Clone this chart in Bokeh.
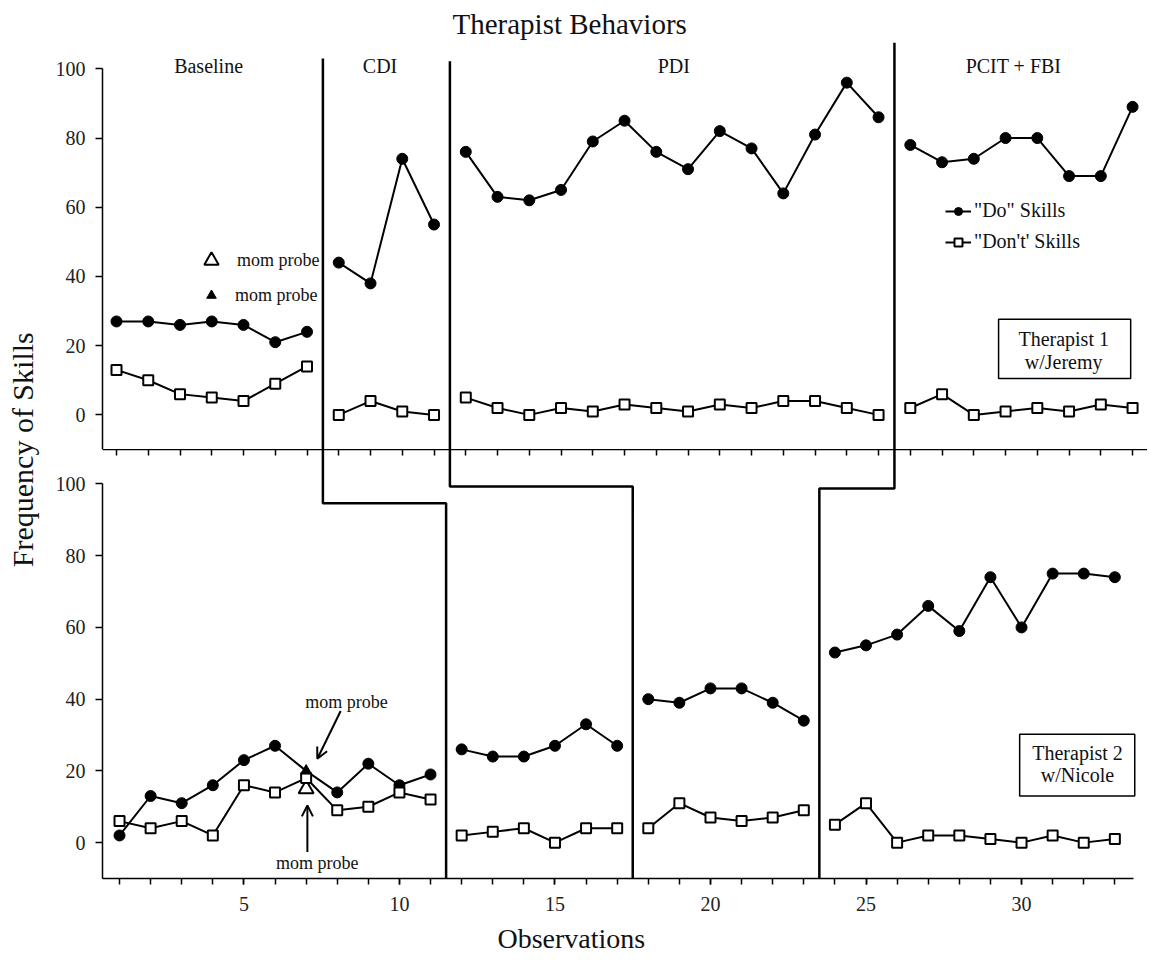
from bokeh.plotting import figure
from bokeh.models import (Range1d, LinearAxis, FixedTicker, Legend, LegendItem, Label,
                          BoxAnnotation, Arrow, OpenHead, Title)
from bokeh.layouts import row, column
from bokeh.embed import file_html
from bokeh.resources import INLINE

FONT = "Liberation Serif"

# ---------------- data ----------------
obs = list(range(1, 34))

# Therapist 1 w/Jeremy (top panel)
top_do = [27, 27, 26, 27, 26, 21, 24,
          44, 38, 74, 55,
          76, 63, 62, 65, 79, 85, 76, 71, 82, 77, 64, 81, 96, 86,
          78, 73, 74, 80, 80, 69, 69, 89]
top_dont = [13, 10, 6, 5, 4, 9, 14,
            0, 4, 1, 0,
            5, 2, 0, 2, 1, 3, 2, 1, 3, 2, 4, 4, 2, 0,
            2, 6, 0, 1, 2, 1, 3, 2]
top_phase_last = [7, 11, 25, 33]
top_phase_names = ["Baseline", "CDI", "PDI", "PCIT + FBI"]
top_phase_label_x = [3.9, 9.3, 18.55, 29.25]
top_change_x = [7.5, 11.5, 25.5]
top_change_top = [103.0, 102.2, 107.6]

# Therapist 2 w/Nicole (bottom panel)
bottom_do = [2, 13, 11, 16, 23, 27, 20, 14, 22, 16, 19,
             26, 24, 24, 27, 33, 27,
             40, 39, 43, 43, 39, 34,
             53, 55, 58, 66, 59, 74, 60, 75, 75, 74]
bottom_dont = [6, 4, 6, 2, 16, 14, 18, 9, 10, 14, 12,
               2, 3, 4, 0, 4, 4,
               4, 11, 7, 6, 7, 9,
               5, 11, 0, 2, 2, 1, 0, 2, 0, 1]
bottom_phase_last = [11, 17, 23, 33]
bottom_change_x = [11.5, 17.5, 23.5]
step_level = [94.6, 99.3, 98.7]

# mom probes (bottom panel)
probe_obs = [7]
probe_dont = [15]

y_ticks = [0, 20, 40, 60, 80, 100]
x_tick_labels = [5, 10, 15, 20, 25, 30]

# ---------------- geometry ----------------
TOP_X = (0.559, 33.47)
BOT_X = (0.453, 34.05)
TOP_Y = (-10, 107.6)
BOT_Y = (-10, 109.6)
LABEL_W = 44
LEFT = 102 - LABEL_W
W = 1147 - LABEL_W


def style_yaxis(ax):
    ax.ticker = FixedTicker(ticks=y_ticks)
    ax.bounds = (-10, 100)
    ax.major_tick_out = 7
    ax.major_tick_in = 0
    ax.minor_tick_out = 0
    ax.minor_tick_in = 0
    ax.axis_line_width = 1.5
    ax.major_tick_line_width = 1.5
    ax.major_label_text_font = FONT
    ax.major_label_text_font_size = "20px"
    ax.major_label_text_color = "#222222"
    ax.major_label_standoff = 10


def draw_series(p, values, phase_last, marker, fill, size, lw, skip=()):
    start = 0
    line_rs = []
    for last in phase_last:
        line_rs.append(p.line(obs[start:last], values[start:last],
                              line_color="black", line_width=2))
        start = last
    xs = [o for o in obs if o not in skip]
    ys = [v for o, v in zip(obs, values) if o not in skip]
    sr = p.scatter(xs, ys, marker=marker, size=size, fill_color=fill,
                   line_color="black", line_width=lw)
    return line_rs, sr


# ---------------- top panel ----------------
top_xr = Range1d(*TOP_X)
p1 = figure(width=W, height=449, x_range=top_xr, y_range=Range1d(*TOP_Y),
            output_backend="svg", toolbar_location=None, x_axis_location=None,
            min_border_left=LEFT, min_border_right=0, min_border_top=42,
            min_border_bottom=0, title="Therapist Behaviors")
p1.title.align = "left"
p1.title.offset = 350
p1.title.standoff = 6
p1.title.text_font = FONT
p1.title.text_font_size = "29px"
p1.title.text_font_style = "normal"
p1.title.text_color = "#111111"
p1.grid.visible = False
p1.outline_line_color = None
style_yaxis(p1.yaxis[0])

for x, t in zip(top_change_x, top_change_top):
    p1.line([x, x], [t, TOP_Y[0]], line_color="black", line_width=2.5)

do_lines, do_sc = draw_series(p1, top_do, top_phase_last, "circle", "black", 11, 1)
dont_lines, dont_sc = draw_series(p1, top_dont, top_phase_last, "square", "white", 10, 2)

for name, lx in zip(top_phase_names, top_phase_label_x):
    p1.add_layout(Label(x=lx, y=100.7, text=name, text_align="center",
                        text_baseline="middle", text_font=FONT,
                        text_font_size="20px", text_color="#111111"))

leg = Legend(items=[LegendItem(label="\"Do\" Skills", renderers=[do_lines[0], do_sc]),
                    LegendItem(label="\"Don't' Skills", renderers=[dont_lines[0], dont_sc])],
             location=(843, 196), orientation="vertical", glyph_width=26, glyph_height=20,
             spacing=8, padding=0, margin=0, label_standoff=3,
             label_text_font=FONT, label_text_font_size="20px",
             label_text_color="#111111",
             border_line_alpha=0, background_fill_alpha=0)
p1.add_layout(leg)

# probe symbol keys (renderers hidden, used only for the keys)
key_open = p1.scatter(probe_obs, probe_dont, marker="triangle", fill_color="white",
                      line_color="black", line_width=2, visible=False)
key_fill = p1.scatter(probe_obs, [bottom_do[o - 1] for o in probe_obs], marker="triangle",
                      fill_color="black", line_color="black", visible=False)
for rend, loc, g, so in [(key_open, (91, 171), 36, 8), (key_fill, (97, 142), 24, 12)]:
    p1.add_layout(Legend(items=[LegendItem(label="mom probe", renderers=[rend])],
                         location=loc, glyph_width=g, glyph_height=g, padding=0, margin=0,
                         label_standoff=so, label_text_font=FONT,
                         label_text_font_size="18px", label_text_color="#111111",
                         border_line_alpha=0, background_fill_alpha=0,
                         inactive_fill_alpha=0))

p1.add_layout(BoxAnnotation(left=28.78, right=32.94, bottom=10.5, top=27.6,
                            fill_alpha=0, line_color="black", line_width=1.5,
                            line_alpha=1))
for txt, ty in [("Therapist 1", 22.0), ("w/Jeremy", 15.2)]:
    p1.add_layout(Label(x=30.83, y=ty, text=txt, text_align="center",
                        text_baseline="middle", text_font=FONT,
                        text_font_size="20px", text_color="#111111"))

# ---------------- bottom panel ----------------
p2 = figure(width=W, height=514, x_range=Range1d(*BOT_X), y_range=Range1d(*BOT_Y),
            extra_x_ranges={"top": top_xr},
            output_backend="svg", toolbar_location=None,
            min_border_left=LEFT, min_border_right=0, min_border_top=0,
            min_border_bottom=85)
p2.grid.visible = False
p2.outline_line_color = None
style_yaxis(p2.yaxis[0])

xa = p2.xaxis[0]
xa.ticker = FixedTicker(ticks=x_tick_labels, minor_ticks=obs)
xa.bounds = (BOT_X[0], 33.6)
xa.major_tick_out = 6
xa.major_tick_in = 0
xa.minor_tick_out = 6
xa.minor_tick_in = 0
xa.axis_line_width = 1.5
xa.major_tick_line_width = 1.5
xa.minor_tick_line_width = 1.5
xa.major_label_text_font = FONT
xa.major_label_text_font_size = "20px"
xa.major_label_text_color = "#222222"
xa.major_label_standoff = 12

ax_top = LinearAxis(x_range_name="top", ticker=FixedTicker(ticks=[], minor_ticks=obs),
                    major_tick_in=0, major_tick_out=0, minor_tick_in=6, minor_tick_out=0,
                    major_label_text_font_size="0px", major_label_standoff=0,
                    axis_line_width=1.5, minor_tick_line_width=1.5)
p2.add_layout(ax_top, "above")

p2.add_layout(Title(text="Observations", align="left", offset=395, text_font=FONT,
                    text_font_size="28px", text_font_style="normal",
                    text_color="#111111", standoff=15), "below")


def top_to_bottom_x(xt):
    return BOT_X[0] + (xt - TOP_X[0]) * (BOT_X[1] - BOT_X[0]) / (TOP_X[1] - TOP_X[0])


for xt, xb, lvl in zip(top_change_x, bottom_change_x, step_level):
    xc = top_to_bottom_x(xt)
    p2.line([xc, xc, xb, xb], [BOT_Y[1], lvl, lvl, BOT_Y[0]],
            line_color="black", line_width=2.5)

draw_series(p2, bottom_do, bottom_phase_last, "circle", "black", 11, 1, skip=probe_obs)
p2.scatter(probe_obs, probe_dont, marker="triangle", size=15, fill_color="white",
           line_color="black", line_width=2)
draw_series(p2, bottom_dont, bottom_phase_last, "square", "white", 10, 2)
p2.scatter(probe_obs, [bottom_do[o - 1] for o in probe_obs], marker="triangle", size=11,
           fill_color="black", line_color="black")

p2.add_layout(Label(x=8.30, y=39.2, text="mom probe", text_align="center",
                    text_baseline="middle", text_font=FONT, text_font_size="18px",
                    text_color="#111111"))
p2.add_layout(Label(x=7.36, y=-5.7, text="mom probe", text_align="center",
                    text_baseline="middle", text_font=FONT, text_font_size="18px",
                    text_color="#111111"))
p2.add_layout(Arrow(end=OpenHead(size=11, line_width=2), x_start=8.11, y_start=36.7,
                    x_end=7.36, y_end=23.4, line_width=2))
p2.add_layout(Arrow(end=OpenHead(size=11, line_width=2), x_start=7.04, y_start=-2.6,
                    x_end=7.04, y_end=10.4, line_width=2))

p2.add_layout(BoxAnnotation(left=29.94, right=33.64, bottom=13.0, top=30.2,
                            fill_alpha=0, line_color="black", line_width=1.5,
                            line_alpha=1))
for txt, ty in [("Therapist 2", 25.1), ("w/Nicole", 18.9)]:
    p2.add_layout(Label(x=31.8, y=ty, text=txt, text_align="center",
                        text_baseline="middle", text_font=FONT,
                        text_font_size="20px", text_color="#111111"))

# ---------------- shared y label ----------------
pl = figure(width=LABEL_W, height=891, x_range=Range1d(0, 1), y_range=Range1d(0, 1),
            output_backend="svg", toolbar_location=None, x_axis_location=None,
            y_axis_location=None, min_border=0)
pl.outline_line_color = None
pl.xgrid.visible = False
pl.ygrid.visible = False
pl.add_layout(Label(x=0.5, y=0.5, text="Frequency of  Skills", angle=90,
                    angle_units="deg", text_align="center", text_baseline="middle",
                    text_font=FONT, text_font_size="30px", text_color="#111111"))

layout = row(pl, column(p1, p2))
open("out.html", "w").write(file_html(layout, INLINE))
